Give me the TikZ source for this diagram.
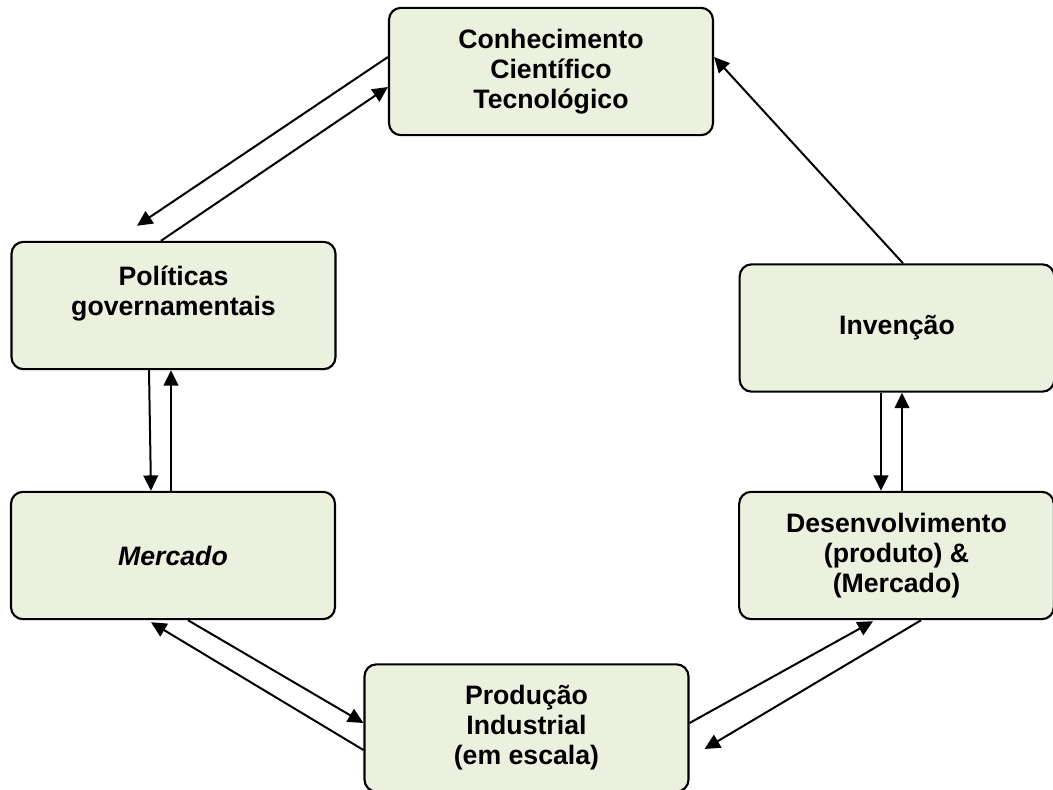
\documentclass[tikz,border=0pt]{standalone}
\usepackage{fontspec}
\setmainfont{Liberation Sans}
\usepackage{xcolor}
\usepackage{tikz}
\usetikzlibrary{arrows.meta}

\definecolor{verdeclaro}{HTML}{EBF1DE}

\begin{document}
\begin{tikzpicture}[
			x=0.75pt, y=-0.75pt, >={Triangle[length=11.5pt,width=11pt]},
			box/.style={draw, line width=1.6pt, rounded corners=9pt, fill=verdeclaro,
				minimum width=243pt, minimum height=95.5pt, inner sep=0pt,
				align=center, font=\bfseries\fontsize{20}{22.5}\selectfont},
			boxr/.style={box, minimum width=236pt},
			link/.style={->, line width=1.5pt}
			]
			% =========================================================
			% área da figura (em pixels da imagem)
			% =========================================================
			\useasboundingbox (0,0) rectangle (1053,789);
			
			% caixas
			\node[box]  (conh)   at (551,71.5)   {Conhecimento\\Científico\\Tecnológico};
			\node[box]  (pol)    at (173.5,305.5) {Políticas\\governamentais\\\mbox{}};
			\node[box]  (merc)   at (173,555.5)  {\itshape Mercado};
			\node[boxr] (inv)    at (897,328)    {Invenção};
			\node[boxr] (desenv) at (896.5,555.5) {Desenvolvimento\\(produto) \&\\(Mercado)};
			\node[box]  (prod)   at (526.5,728)  {Produção\\Industrial\\(em escala)};
			
			% conhecimento <-> políticas
			\draw[link] ([shift={(0,-14.5)}]conh.west) -- ([shift={(-36.5,-15)}]pol.north);
			\draw[link] ([shift={(-12.5,0)}]pol.north) -- ([shift={(0,15.5)}]conh.west);
			
			% políticas <-> mercado
			\draw[link] ([shift={(-24.5,0)}]pol.south) -- ([shift={(-22,0)}]merc.north);
			\draw[link] ([shift={(-2,0)}]merc.north) -- ([shift={(-2.5,0)}]pol.south);
			
			% mercado <-> produção
			\draw[link] ([shift={(15,0)}]merc.south) -- ([shift={(0,-5)}]prod.west);
			\draw[link] ([shift={(0,22)}]prod.west) -- ([shift={(-22,2)}]merc.south);
			
			% produção <-> desenvolvimento
			\draw[link] ([shift={(0,-5)}]prod.east) -- ([shift={(-23.5,1)}]desenv.south);
			\draw[link] ([shift={(24.5,0)}]desenv.south) -- ([shift={(15,21)}]prod.east);
			
			% invenção <-> desenvolvimento
			\draw[link] ([shift={(-16,0)}]inv.south) -- ([shift={(-15.5,0)}]desenv.north);
			\draw[link] ([shift={(5.5,0)}]desenv.north) -- ([shift={(5,0)}]inv.south);
			
			% invenção -> conhecimento
			\draw[link] ([shift={(6,0)}]inv.north) -- ([shift={(0,-14.5)}]conh.east);
			
\end{tikzpicture}
\end{document}
